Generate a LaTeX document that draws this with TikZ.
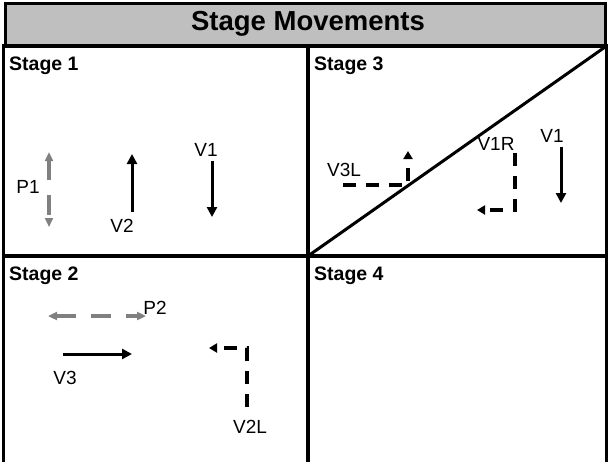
\documentclass[tikz,border=0pt]{standalone}
\usepackage{fontspec}
\setmainfont{Liberation Sans}
\usepackage{tikz}
\usetikzlibrary{arrows.meta}

\tikzset{
  lbl/.style={inner sep=0pt, font=\fontsize{19}{21}\selectfont},
  stage/.style={inner sep=0pt, anchor=base west, font=\bfseries\fontsize{19.5}{21}\selectfont},
  move/.style={line width=3pt, -{Triangle[length=10pt,width=10pt]}},
  turn/.style={line width=3.5pt, line join=miter, dash pattern=on 13pt off 10pt, -{Triangle[length=8pt,width=9pt]}},
  pmove/.style={line width=4pt, gray, dash pattern=on 20pt off 15pt, {Triangle[length=9pt,width=8pt]}-{Triangle[length=9pt,width=8pt]}}
}

\begin{document}
\begin{tikzpicture}[x=1pt,y=-1pt]
  \useasboundingbox (0,0) rectangle (608,461);

  % title bar
  \draw[line width=3pt, fill=gray!50] (5,3) rectangle (605.5,45);
  \node[font=\bfseries\fontsize{27.5}{30}\selectfont, anchor=base] (title) at (308,30) {Stage Movements};

  % the four cells, stage 3 split along its diagonal
  \coordinate (nw) at (3.5,46);  \coordinate (ne) at (606.5,46);
  \coordinate (sw) at (3.5,470); \coordinate (se) at (606.5,470);
  \coordinate (nm) at (308,46);  \coordinate (sm) at (308,470);
  \coordinate (wm) at (3.5,256); \coordinate (em) at (606.5,256);
  \coordinate (c) at (308,256);
  \draw[line width=3.5pt] (sw) -- (nw) -- (ne) -- (se) (nm) -- (sm) (wm) -- (em);
  \draw[line width=3pt] (c) -- (ne);

  \foreach \x/\y/\n in {9/70/1, 314/70/3, 9/280/2, 314/280/4}{
    \node[stage] (s\n) at (\x,\y) {Stage \n}; }

  \foreach \nm/\x/\y/\t in {lp1/28/187/P1, lv2/122/226/V2, lva/206/150/V1,
                            lv3l/344/170/V3L, lv1r/496/144/V1R, lvb/552/136/V1,
                            lp2/155/308/P2, lv3/65/378/V3, lv2l/250/427/V2L}{
    \node[lbl] (\nm) at (\x,\y) {\t}; }

  % stage 1
  \coordinate (p1a) at (49,152);  \coordinate (p1b) at (49,227);
  \coordinate (v2a) at (132,212); \coordinate (v2b) at (132,154);
  \coordinate (v1a) at (212,161); \coordinate (v1b) at (212,217);
  \draw[pmove] (p1a) -- (p1b);
  \draw[move] (v2a) -- (v2b);
  \draw[move] (v1a) -- (v1b);

  % stage 3
  \coordinate (v3la) at (343,185); \coordinate (v3lb) at (408,185); \coordinate (v3lc) at (408,151);
  \coordinate (v1ra) at (515,153); \coordinate (v1rb) at (515,210); \coordinate (v1rc) at (477,210);
  \coordinate (v1c) at (561,147);  \coordinate (v1d) at (561,203);
  \draw[turn] (v3la) -- (v3lb) -- (v3lc);
  \draw[turn] (v1ra) -- (v1rb) -- (v1rc);
  \draw[move] (v1c) -- (v1d);

  % stage 2
  \coordinate (p2a) at (48,316);  \coordinate (p2b) at (146,316);
  \coordinate (v3a) at (63,354);  \coordinate (v3b) at (132,354);
  \coordinate (v2la) at (247,407); \coordinate (v2lb) at (247,348); \coordinate (v2lc) at (209,348);
  \draw[pmove] (p2a) -- (p2b);
  \draw[move] (v3a) -- (v3b);
  \draw[turn] (v2la) -- (v2lb) -- (v2lc);
\end{tikzpicture}
\end{document}
